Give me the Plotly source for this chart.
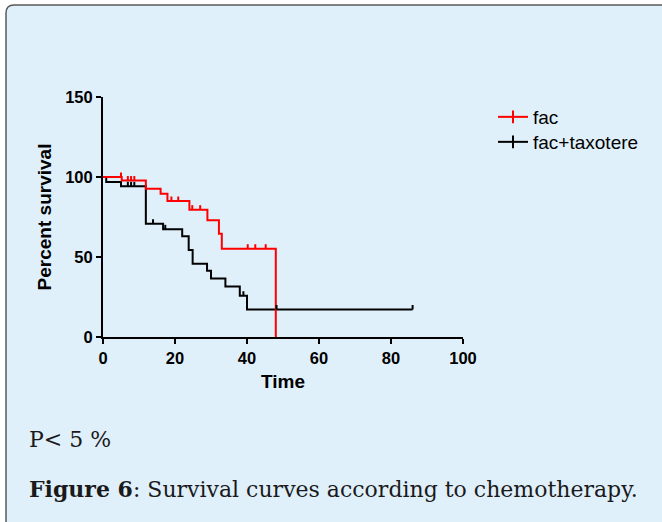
import numpy as np
import plotly.graph_objects as go

# ---- data ----
fac_times = [0, 5.2, 11.9, 16.0, 17.9, 24.0, 29.0, 32.2, 33.0, 48.0]
fac_surv = [100, 97.8, 92.7, 89.6, 85.0, 79.6, 73.0, 64.6, 55.2, 0]
fac_censor = [5.0, 6.9, 7.8, 8.7, 19.0, 20.9, 24.8, 27.0, 40.2, 42.3, 45.2]

tax_times = [0, 0.9, 5.0, 11.9, 16.7, 22.0, 23.8, 24.9, 28.9, 30.0, 34.0, 38.0, 40.0, 86.0]
tax_surv = [100, 96.9, 94.2, 70.8, 67.3, 63.0, 54.4, 45.8, 41.4, 36.5, 31.5, 25.8, 17.2, 17.2]
tax_censor = [6.9, 7.8, 8.7, 13.9, 17.3, 39.0, 48.2, 86.0]

series_names = ["fac", "fac+taxotere"]
x_ticks = [0, 20, 40, 60, 80, 100]
y_ticks = [0, 50, 100, 150]

RED = "#FF0000"
BLACK = "#000000"
BG = "rgb(224,240,251)"

# plot area geometry (pixels)
L, R, T, B = 103, 463, 97, 337
W, H = 662, 522


def px2x(px):
    return (px - L) / (R - L)


def py2y(py):
    return (B - py) / (B - T)


def censor_segments(times, surv, censor, up=2.8):
    times = np.asarray(times)
    xs, ys = [], []
    for t in censor:
        i = int(np.searchsorted(times, t, side="right")) - 1
        s = surv[max(i, 0)]
        xs += [t, t, None]
        ys += [s, s + up, None]
    return xs, ys


fig = go.Figure()

fig.add_trace(go.Scatter(x=tax_times, y=tax_surv, mode="lines", line=dict(color=BLACK, width=2, shape="hv"),
                         showlegend=False, hoverinfo="skip"))
fig.add_trace(go.Scatter(x=fac_times, y=fac_surv, mode="lines", line=dict(color=RED, width=2, shape="hv"),
                         showlegend=False, hoverinfo="skip"))
cx, cy = censor_segments(fac_times, fac_surv, fac_censor)
fig.add_trace(go.Scatter(x=cx, y=cy, mode="lines", line=dict(color=RED, width=2), showlegend=False,
                         hoverinfo="skip"))
cx, cy = censor_segments(tax_times, tax_surv, tax_censor)
fig.add_trace(go.Scatter(x=cx, y=cy, mode="lines", line=dict(color=BLACK, width=2), showlegend=False,
                         hoverinfo="skip"))

# legend entries (each in its own legend box for exact spacing)
for name, col, lg in zip(series_names, [RED, BLACK], ["legend", "legend2"]):
    fig.add_trace(go.Scatter(x=[None], y=[None], mode="lines+markers", name=name, legend=lg,
                             line=dict(color=col, width=2),
                             marker=dict(symbol="line-ns", size=9, line=dict(color=col, width=2))))

axis_common = dict(showgrid=False, zeroline=False, showline=True, linecolor=BLACK, linewidth=2,
                   ticks="outside", ticklen=5, tickwidth=2, tickcolor=BLACK,
                   tickfont=dict(family="Liberation Sans, Arial", size=16.5, color=BLACK, weight="bold"))

legend_common = dict(xanchor="left", yanchor="middle", bgcolor="rgba(0,0,0,0)",
                     font=dict(family="Liberation Sans, Arial", size=19, color=BLACK), itemwidth=30)

fig.update_layout(
    width=W, height=H,
    margin=dict(l=L, r=W - R, t=T, b=H - B, pad=0),
    paper_bgcolor="white",
    plot_bgcolor="rgba(0,0,0,0)",
    xaxis=dict(range=[0, 100], tickvals=x_ticks, **axis_common,
               title=dict(text="Time", standoff=9,
                          font=dict(family="Liberation Sans, Arial", size=19, color=BLACK, weight="bold"))),
    yaxis=dict(range=[0, 150], tickvals=y_ticks, **axis_common,
               title=dict(text="Percent survival", standoff=9,
                          font=dict(family="Liberation Sans, Arial", size=19, color=BLACK, weight="bold"))),
    legend=dict(x=px2x(493), y=py2y(117), **legend_common),
    legend2=dict(x=px2x(493), y=py2y(142), **legend_common),
    showlegend=True,
)

# background frame with rounded top-left corner
x0, y0 = px2x(6), py2y(5)
x1, y1 = px2x(700), py2y(560)
rx, ry = 8 / (R - L), 8 / (B - T)
path = (f"M {x0},{y1} L {x0},{y0 - ry} Q {x0},{y0} {x0 + rx},{y0} L {x1},{y0} L {x1},{y1} Z")
fig.add_shape(type="path", path=path, xref="paper", yref="paper", layer="below",
              fillcolor=BG, line=dict(color="#5a5a5a", width=1.5))

cap_font = dict(family="DejaVu Serif", size=22, color="#1a1a1a")
fig.add_annotation(text="P< 5 %", x=px2x(27), y=py2y(439), xref="paper", yref="paper",
                   xanchor="left", yanchor="middle", showarrow=False, font=cap_font)
fig.add_annotation(text="<b>Figure 6</b>: Survival curves according to chemotherapy.",
                   x=px2x(27), y=py2y(489), xref="paper", yref="paper",
                   xanchor="left", yanchor="middle", showarrow=False, font=cap_font)

fig.write_html("out.html", config={"displayModeBar": False},
               post_script="document.body.style.margin='0';document.body.style.overflow='hidden';")
